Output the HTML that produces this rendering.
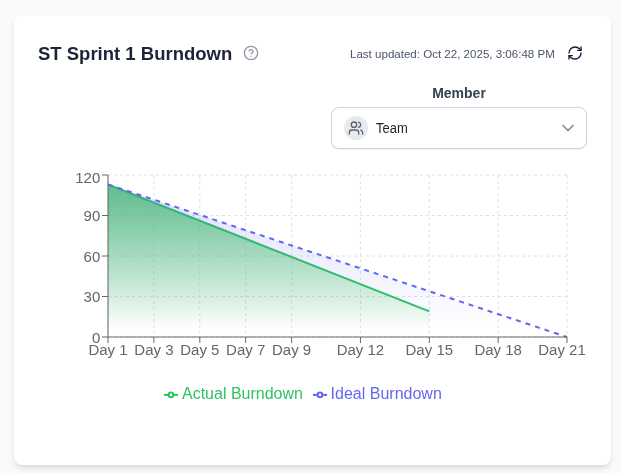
<!DOCTYPE html>
<html lang="en"><head><meta charset="utf-8"><title>ST Sprint 1 Burndown</title>
<style>
html,body{margin:0;padding:0}
body{width:621px;height:473px;background:#f9fafb;font-family:"Liberation Sans",sans-serif;position:relative;overflow:hidden}
.card{position:absolute;left:14px;top:15px;width:597px;height:450px;background:#fff;border-radius:8px;box-shadow:0 4px 6px -1px rgba(0,0,0,.1),0 2px 4px -1px rgba(0,0,0,.06)}
.title{position:absolute;left:38px;top:43.3px;font-size:18.5px;font-weight:700;color:#1c2438;line-height:22px;white-space:nowrap}
.help{position:absolute;left:243px;top:45px}
.upd{position:absolute;left:350px;top:46.7px;font-size:11.55px;color:#4a5568;line-height:14px;white-space:nowrap}
.refresh{position:absolute;left:567px;top:45px}
.member{position:absolute;left:331px;width:256px;top:84.6px;text-align:center;font-size:14px;font-weight:700;color:#364152;line-height:16px}
.select{position:absolute;left:331px;top:107px;width:254px;height:40px;border:1px solid #cbd5e0;border-radius:8px;background:#fff;box-shadow:0 1px 2px rgba(0,0,0,.06)}
.avatar{position:absolute;left:12px;top:8px;width:24px;height:24px;border-radius:50%;background:#e8e9ec}
.avatar svg{position:absolute;left:3.8px;top:3.9px}
.team{position:absolute;left:43.6px;top:12.3px;font-size:14px;transform:scaleX(.925);transform-origin:0 50%;color:#1a202c;line-height:16px}
.chev{position:absolute;left:225.9px;top:9.75px}
.chart{position:absolute;left:0;top:0}
.tick text{font-size:15.5px;font-family:"Liberation Sans",sans-serif}
.leg{font-size:16px;font-family:"Liberation Sans",sans-serif}
</style></head><body>
<div class="card"></div>
<div class="title">ST Sprint 1 Burndown</div>
<svg class="help" width="16" height="16" viewBox="0 0 24 24" fill="none" stroke="#9298a8" stroke-width="2" stroke-linecap="round" stroke-linejoin="round"><circle cx="12" cy="12" r="10"/><path d="M9.09 9a3 3 0 0 1 5.83 1c0 2-3 3-3 3"/><path d="M12 17h.01"/></svg>
<div class="upd">Last updated: Oct 22, 2025, 3:06:48 PM</div>
<svg class="refresh" width="16" height="16" viewBox="0 0 24 24" fill="none" stroke="#131c33" stroke-width="2" stroke-linecap="round" stroke-linejoin="round"><path d="M3 12a9 9 0 0 1 9-9 9.75 9.75 0 0 1 6.74 2.74L21 8"/><path d="M21 3v5h-5"/><path d="M21 12a9 9 0 0 1-9 9 9.75 9.75 0 0 1-6.74-2.74L3 16"/><path d="M8 16H3v5"/></svg>
<div class="member">Member</div>
<div class="select">
<div class="avatar"><svg width="16" height="16" viewBox="0 0 24 24" fill="none" stroke="#586273" stroke-width="2" stroke-linecap="round" stroke-linejoin="round"><path d="M16 21v-2a4 4 0 0 0-4-4H6a4 4 0 0 0-4 4v2"/><circle cx="9" cy="7" r="4"/><path d="M22 21v-2a4 4 0 0 0-3-3.87"/><path d="M16 3.13a4 4 0 0 1 0 7.75"/></svg></div>
<div class="team">Team</div>
<svg class="chev" width="20" height="20" viewBox="0 0 24 24" fill="none" stroke="#808a9c" stroke-width="2" stroke-linecap="round" stroke-linejoin="round"><path d="m6 9 6 6 6-6"/></svg>
</div>
<svg class="chart" width="621" height="473" viewBox="0 0 621 473"><defs>
<linearGradient id="ga" x1="0" y1="0" x2="0" y2="1"><stop offset="5%" stop-color="#42cb5e" stop-opacity="0.8"/><stop offset="95%" stop-color="#42cb5e" stop-opacity="0"/></linearGradient>
<linearGradient id="gi" x1="0" y1="0" x2="0" y2="1"><stop offset="5%" stop-color="#6366f1" stop-opacity="0.2"/><stop offset="95%" stop-color="#6366f1" stop-opacity="0"/></linearGradient>
</defs><g stroke="#e0e0e0" stroke-dasharray="3 3" fill="none"><line x1="108.0" y1="175.0" x2="567.0" y2="175.0"/><line x1="108.0" y1="215.5" x2="567.0" y2="215.5"/><line x1="108.0" y1="256.0" x2="567.0" y2="256.0"/><line x1="108.0" y1="296.5" x2="567.0" y2="296.5"/><line x1="108.0" y1="337.0" x2="567.0" y2="337.0"/><line x1="108.00" y1="175.0" x2="108.00" y2="337.0"/><line x1="153.90" y1="175.0" x2="153.90" y2="337.0"/><line x1="199.80" y1="175.0" x2="199.80" y2="337.0"/><line x1="245.70" y1="175.0" x2="245.70" y2="337.0"/><line x1="291.60" y1="175.0" x2="291.60" y2="337.0"/><line x1="360.45" y1="175.0" x2="360.45" y2="337.0"/><line x1="429.30" y1="175.0" x2="429.30" y2="337.0"/><line x1="498.15" y1="175.0" x2="498.15" y2="337.0"/><line x1="567.00" y1="175.0" x2="567.00" y2="337.0"/></g><path d="M108.0,184.45L429.30,311.35L429.30,337.0L108.0,337.0Z" fill="url(#ga)"/><path d="M108.0,184.45L429.30,311.35" fill="none" stroke="#2cc462" stroke-width="2"/><path d="M108.0,184.45L567.0,337.0L108.0,337.0Z" fill="url(#gi)"/><path d="M108.0,184.45L567.0,337.0" fill="none" stroke="#6366f1" stroke-width="2" stroke-dasharray="5 5"/><g stroke="#666" fill="none"><line x1="108.0" y1="337.0" x2="567.0" y2="337.0"/><line x1="108.0" y1="175.0" x2="108.0" y2="337.0"/><line x1="108.00" y1="337.0" x2="108.00" y2="343.0"/><line x1="153.90" y1="337.0" x2="153.90" y2="343.0"/><line x1="199.80" y1="337.0" x2="199.80" y2="343.0"/><line x1="245.70" y1="337.0" x2="245.70" y2="343.0"/><line x1="291.60" y1="337.0" x2="291.60" y2="343.0"/><line x1="360.45" y1="337.0" x2="360.45" y2="343.0"/><line x1="429.30" y1="337.0" x2="429.30" y2="343.0"/><line x1="498.15" y1="337.0" x2="498.15" y2="343.0"/><line x1="567.00" y1="337.0" x2="567.00" y2="343.0"/><line x1="102.0" y1="175.0" x2="108.0" y2="175.0"/><line x1="102.0" y1="215.5" x2="108.0" y2="215.5"/><line x1="102.0" y1="256.0" x2="108.0" y2="256.0"/><line x1="102.0" y1="296.5" x2="108.0" y2="296.5"/><line x1="102.0" y1="337.0" x2="108.0" y2="337.0"/></g><g class="tick" fill="#666"><text transform="translate(108.00,355.4) scale(.968,1)" text-anchor="middle">Day 1</text><text transform="translate(153.90,355.4) scale(.968,1)" text-anchor="middle">Day 3</text><text transform="translate(199.80,355.4) scale(.968,1)" text-anchor="middle">Day 5</text><text transform="translate(245.70,355.4) scale(.968,1)" text-anchor="middle">Day 7</text><text transform="translate(291.60,355.4) scale(.968,1)" text-anchor="middle">Day 9</text><text transform="translate(360.45,355.4) scale(.968,1)" text-anchor="middle">Day 12</text><text transform="translate(429.30,355.4) scale(.968,1)" text-anchor="middle">Day 15</text><text transform="translate(498.15,355.4) scale(.968,1)" text-anchor="middle">Day 18</text><text transform="translate(562.00,355.4) scale(.968,1)" text-anchor="middle">Day 21</text><text transform="translate(100.3,183.20) scale(.968,1)" text-anchor="end">120</text><text transform="translate(100.3,221.10) scale(.968,1)" text-anchor="end">90</text><text transform="translate(100.3,261.60) scale(.968,1)" text-anchor="end">60</text><text transform="translate(100.3,302.10) scale(.968,1)" text-anchor="end">30</text><text transform="translate(100.3,342.60) scale(.968,1)" text-anchor="end">0</text></g><g stroke="#2cc462" stroke-width="2" fill="none"><line x1="164" y1="394.9" x2="178" y2="394.9"/><circle cx="171" cy="394.9" r="2.3" fill="#fff"/></g><text class="leg" x="182" y="399" fill="#2cc462">Actual Burndown</text><g stroke="#6366f1" stroke-width="2" fill="none"><line x1="313" y1="394.9" x2="327" y2="394.9"/><circle cx="320" cy="394.9" r="2.3" fill="#fff"/></g><text class="leg" x="330.6" y="399" fill="#6366f1">Ideal Burndown</text></svg>
</body></html>
